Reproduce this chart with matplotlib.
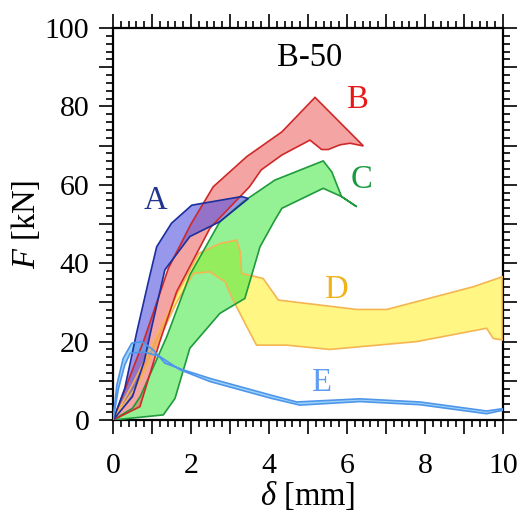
import matplotlib
matplotlib.use("Agg")
import matplotlib.pyplot as plt
from matplotlib.ticker import MultipleLocator, FuncFormatter

plt.rcParams['font.family'] = ['Liberation Serif', 'DejaVu Serif']
plt.rcParams['mathtext.fontset'] = 'custom'
plt.rcParams['mathtext.rm'] = 'Liberation Serif'
plt.rcParams['mathtext.it'] = 'Liberation Serif:italic'

# ---- data (delta [mm], F [kN]) : upper and lower boundaries of each band ----
A_up_x = [0, 0.3, 0.6, 0.9, 1.12, 1.5, 2.02, 3.3, 3.47]
A_up_F = [0, 8, 22, 35, 44.2, 50.2, 54.8, 57.0, 56.5]
A_lo_x = [0, 0.5, 0.8, 1.0, 1.33, 1.97, 2.74, 3.47]
A_lo_F = [0, 6, 15, 24, 38.3, 46.8, 50.6, 56.5]

B_up_x = [0, 0.78, 1.42, 2.0, 2.57, 3.43, 4.33, 5.18, 6.42]
B_up_F = [0, 20, 38.7, 50, 59.5, 67.2, 73.5, 82.3, 69.9]
B_lo_x = [0, 0.69, 1.2, 1.63, 2.49, 3.5, 3.8, 4.33, 5.05, 5.35, 5.52, 5.82, 6.08, 6.42]
B_lo_F = [0, 3.4, 20, 32.7, 49, 59.5, 63.8, 67.6, 71.4, 69, 69, 70.2, 70.6, 69.9]

C_up_x = [0, 0.5, 0.7, 1.38, 1.97, 2.74, 3.34, 4.15, 5.39, 5.61, 5.86, 6.25]
C_up_F = [0, 3, 6, 21.3, 37, 50.6, 55.7, 61.2, 66.1, 63.3, 57, 54.4]
C_lo_x = [0, 1.29, 1.59, 1.97, 2.74, 3.38, 3.77, 4.15, 4.33, 5.39, 5.86]
C_lo_F = [0, 1.3, 5.5, 18.3, 27.2, 31.0, 44.2, 51, 54, 59.1, 57]

D_up_x = [0, 0.55, 1.1, 1.63, 2.2, 2.74, 3.17, 3.26, 3.3, 3.85, 4.24, 6.25, 7.02, 9.24, 10]
D_up_F = [0, 10, 21, 31.9, 42.5, 45, 45.9, 43, 37.4, 36.1, 30.6, 28.2, 28.2, 34, 36.6]
D_lo_x = [0, 0.7, 1.2, 1.63, 2.06, 2.49, 2.87, 3.08, 3.43, 3.68, 4.45, 5.56, 7.79, 9.58, 9.75, 10]
D_lo_F = [0, 10, 21, 30, 37.4, 37.8, 35.3, 30.6, 23.8, 19.1, 19.1, 18, 20, 23.4, 20.8, 20.4]

E_up_x = [0, 0.1, 0.26, 0.48, 0.74, 1.03, 1.33, 1.8, 2.49, 4.03, 4.71, 6.33, 7.87, 9.58, 10]
E_up_F = [0, 9, 15.7, 19.6, 20, 17.9, 14.5, 12.8, 10.6, 6.4, 4.6, 5.4, 4.6, 2.3, 2.9]
E_lo_x = [0, 0.14, 0.3, 0.44, 0.78, 1.2, 1.72, 2.49, 4.03, 4.79, 6.33, 7.87, 9.58, 10]
E_lo_F = [0, 8, 14, 17, 17.4, 16.2, 12.8, 9.8, 5.6, 3.8, 4.7, 3.9, 1.6, 2.5]

labels = ['A', 'B', 'C', 'D', 'E']
label_x = [1.08, 6.28, 6.38, 5.74, 5.36]
label_F = [56, 81.6, 61.2, 33.2, 9.4]
title_text = 'B-50'

edge_colors = ['#1c2f9c', '#d02828', '#1f9a3c', '#f4b552', '#4f96ea']
fill_colors = ['#5252e0', '#ee5a5a', '#3ce63c', '#fff030', '#5ab8f5']
label_colors = ['#1f3690', '#e81818', '#1a9a40', '#f2b21a', '#5f9cf2']
alphas = [0.6, 0.55, 0.55, 0.6, 0.6]

bands = [
    (A_up_x, A_up_F, A_lo_x, A_lo_F),
    (B_up_x, B_up_F, B_lo_x, B_lo_F),
    (C_up_x, C_up_F, C_lo_x, C_lo_F),
    (D_up_x, D_up_F, D_lo_x, D_lo_F),
    (E_up_x, E_up_F, E_lo_x, E_lo_F),
]

fig = plt.figure(figsize=(5.21, 5.19), dpi=100)
ax = fig.add_axes([113/521, 1 - 420/519, (503-113)/521, (420-28)/519])

order = [3, 2, 1, 0, 4]
for i in order:
    ux, uF, lx, lF = bands[i]
    px = list(ux) + list(reversed(lx))
    pF = list(uF) + list(reversed(lF))
    ax.fill(px, pF, facecolor=fill_colors[i], alpha=alphas[i], edgecolor='none', zorder=2)
    ax.fill(px, pF, facecolor='none', edgecolor=edge_colors[i], lw=1.2, zorder=3)

for i, lab in enumerate(labels):
    ax.text(label_x[i], label_F[i], lab, color=label_colors[i], fontsize=23.5,
            ha='center', va='center', zorder=5)
ax.text(5.05, 92.3, title_text, color='black', fontsize=23.5, ha='center', va='center')

ax.set_xlim(0, 10)
ax.set_ylim(0, 100)
ax.xaxis.set_major_locator(MultipleLocator(1))
ax.xaxis.set_minor_locator(MultipleLocator(0.2))
ax.yaxis.set_major_locator(MultipleLocator(10))
ax.yaxis.set_minor_locator(MultipleLocator(2))
ax.xaxis.set_major_formatter(FuncFormatter(lambda v, p: f'{int(round(v))}' if int(round(v)) % 2 == 0 else ''))
ax.yaxis.set_major_formatter(FuncFormatter(lambda v, p: f'{int(round(v))}' if int(round(v)) % 20 == 0 else ''))

ax.tick_params(which='both', direction='out', top=True, right=True, width=1.2, colors='black',
               labelsize=21.5)
ax.tick_params(which='major', length=10)
ax.tick_params(which='minor', length=5)
ax.tick_params(axis='x', pad=14)
ax.tick_params(axis='y', pad=7)
for s in ax.spines.values():
    s.set_linewidth(1.6)

ax.set_xlabel(r'$\it{\delta}$ [mm]', fontsize=23.5, labelpad=0)
ax.set_ylabel(r'$\it{F}$ [kN]', fontsize=23.5, labelpad=2)

fig.savefig('out.png', dpi=100)
